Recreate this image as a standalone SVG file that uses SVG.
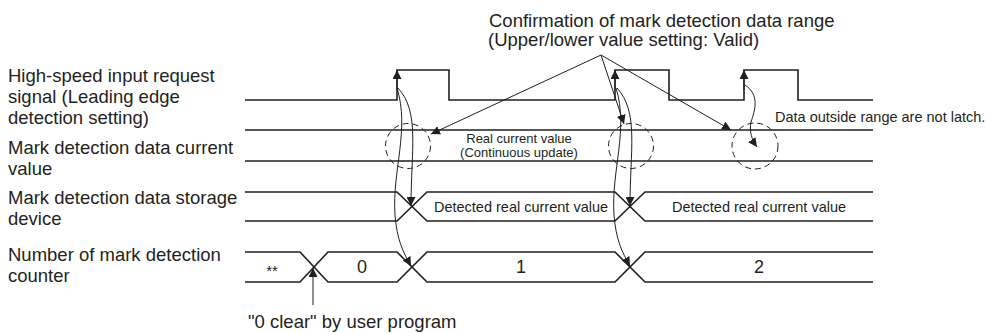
<svg xmlns="http://www.w3.org/2000/svg" width="986" height="333" viewBox="0 0 986 333">
<defs>
<marker id="ah" viewBox="0 0 10 10" refX="10" refY="5" markerWidth="9" markerHeight="9" markerUnits="userSpaceOnUse" orient="auto">
<path d="M0,0 L10,5 L0,10 z" fill="#231f20"/>
</marker>
</defs>
<style>
text{font-family:"Liberation Sans",Arial,sans-serif;fill:#231f20}
.lbl{font-size:18.5px}
.sm{font-size:14.5px}
.xs{font-size:13px}
.num{font-size:18px}
.sig{fill:none;stroke:#231f20;stroke-width:1.6}
.con{fill:none;stroke:#231f20;stroke-width:1}
.dash{fill:none;stroke:#231f20;stroke-width:1;stroke-dasharray:6,4}
</style>
<rect width="986" height="333" fill="#fff"/>
<g id="labels">
<text class="lbl" x="8" y="82">High-speed input request</text>
<text class="lbl" x="8" y="103">signal (Leading edge</text>
<text class="lbl" x="8" y="124">detection setting)</text>
<text class="lbl" x="8" y="154">Mark detection data current</text>
<text class="lbl" x="8" y="175">value</text>
<text class="lbl" x="8" y="204">Mark detection data storage</text>
<text class="lbl" x="8" y="225">device</text>
<text class="lbl" x="8" y="261">Number of mark detection</text>
<text class="lbl" x="8" y="282">counter</text>
</g>
<g id="title">
<text class="lbl" x="489" y="27">Confirmation of mark detection data range</text>
<text class="lbl" x="488" y="46">(Upper/lower value setting: Valid)</text>
</g>
<g id="signal-input">
<path class="sig" d="M245,100 H397 V70 H449 V100 H615 V70 H669 V100 H744 V70 H798 V100 H873"/>
</g>
<g id="signal-current">
<path class="sig" d="M245,130 H873 M245,161 H873"/>
<text class="xs" x="519" y="143" text-anchor="middle">Real current value</text>
<text class="xs" x="519" y="157" text-anchor="middle">(Continuous update)</text>
<circle class="dash" cx="408" cy="146" r="22.5"/>
<circle class="dash" cx="631" cy="146" r="22.5"/>
<circle class="dash" cx="755" cy="146" r="23"/>
<text class="sm" x="775" y="122">Data outside range are not latch.</text>
</g>
<g id="signal-storage">
<path class="sig" d="M245,192 H397 L427,221 H615 L645,192 H873 M245,221 H397 L427,192 H615 L645,221 H873"/>
<text class="sm" x="521" y="212" text-anchor="middle">Detected real current value</text>
<text class="sm" x="759" y="212" text-anchor="middle">Detected real current value</text>
</g>
<g id="signal-counter">
<path class="sig" d="M245,252 H300 L328,282 H397 L427,252 H615 L645,282 H873 M245,282 H300 L328,252 H397 L427,282 H615 L645,252 H873"/>
<text x="272" y="276" text-anchor="middle" style="font-size:15px">**</text>
<text class="num" x="362" y="273" text-anchor="middle">0</text>
<text class="num" x="521" y="273" text-anchor="middle">1</text>
<text class="num" x="759" y="273" text-anchor="middle">2</text>
</g>
<g id="note-clear">
<text class="lbl" x="248" y="328">"0 clear" by user program</text>
</g>
<g id="connectors">
<path class="con" d="M397,90 V70" marker-end="url(#ah)"/>
<path class="con" d="M615,90 V70" marker-end="url(#ah)"/>
<path class="con" d="M744,90 V70" marker-end="url(#ah)"/>
<path class="con" d="M601,55 L431,134" marker-end="url(#ah)"/>
<path class="con" d="M601,55 L624,124" marker-end="url(#ah)"/>
<path class="con" d="M601,55 L731,130" marker-end="url(#ah)"/>
<path class="con" d="M398,88 C420,112 411,150 411,206" marker-end="url(#ah)"/>
<path class="con" d="M397,88 C410,130 392,170 395,215 C397,240 403,252 411,266" marker-end="url(#ah)"/>
<path class="con" d="M617,88 C639,112 630,150 630,206" marker-end="url(#ah)"/>
<path class="con" d="M616,88 C629,130 611,170 614,215 C616,240 622,252 630,266" marker-end="url(#ah)"/>
<path class="con" d="M745,85 C760,95 755,110 751,122 C749,132 752,140 757,147" marker-end="url(#ah)"/>
<path class="con" d="M313,305 V268" marker-end="url(#ah)"/>
</g>
</svg>
